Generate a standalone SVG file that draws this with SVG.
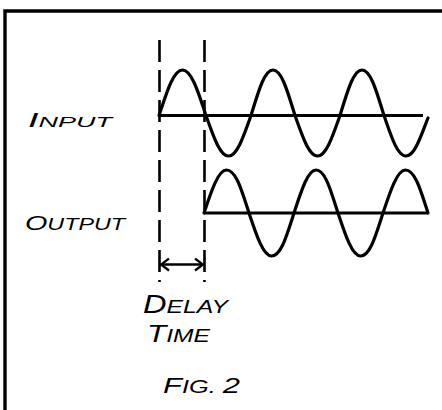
<svg xmlns="http://www.w3.org/2000/svg" width="442" height="410" viewBox="0 0 442 410">
<style>
.frame{stroke:#000;stroke-width:3.4;fill:none}
.wave{stroke:#000;stroke-width:3.2;fill:none;stroke-linecap:round;stroke-linejoin:round}
.axis{stroke:#000;stroke-width:3;fill:none}
.dash{stroke:#000;stroke-width:2.6;fill:none;stroke-dasharray:22 8}
.arrow{stroke:#000;stroke-width:2.4;fill:none}
.lbl{font-family:"Liberation Sans","DejaVu Sans",sans-serif;font-style:italic;fill:#000}
</style>
<defs>
<marker id="head" viewBox="0 0 10 14" refX="9" refY="7" markerWidth="10" markerHeight="14" markerUnits="userSpaceOnUse" orient="auto-start-reverse">
<path d="M1,1 L9,7 L1,13" fill="none" stroke="#000" stroke-width="2.2"/>
</marker>
</defs>
<rect width="442" height="410" fill="#fff"/>
<g id="frame">
<path class="frame" d="M5,410 V11 H442"/>
</g>
<g id="input">
<path class="axis" d="M159,115.5 H423"/>
<path class="wave" d="M159,115.5 C166.7,92.2 173.4,70 182.5,70 C191.6,70 198.3,92.2 206,115.5 C213.3,136.2 219.9,156 228.5,156 C237.1,156 243.7,136.2 251,115.5 C258.2,92.2 264.2,70 273,70 C281.8,70 287.8,92.2 295,115.5 C302.3,136.2 308.9,156 317.5,156 C326.1,156 332.7,136.2 340,115.5 C347.2,92.2 353.2,70 362,70 C370.8,70 376.8,92.2 384,115.5 C391.2,136.2 397.2,156 406,156 C414.8,156 420.8,136.2 428,118"/>
<text class="lbl" x="28" y="127" font-size="15" textLength="84" lengthAdjust="spacingAndGlyphs"><tspan font-size="21">I</tspan>NPUT</text>
</g>
<g id="output">
<path class="axis" d="M204,213 H428"/>
<path class="wave" d="M204,213 C211.3,191 218.2,170 226.5,170 C236.2,170 241.8,191 249,213 C256.3,235 263.2,256 271.5,256 C281.2,256 286.8,235 294,213 C301.2,191 307.8,170 316,170 C325.5,170 330.8,191 338,213 C345.3,235 352.2,256 360.5,256 C370.2,256 375.8,235 383,213 C390.3,191 397.2,170 405.5,170 C415.2,170 420.8,191 428,213"/>
<text class="lbl" x="25" y="230" font-size="17" textLength="100" lengthAdjust="spacingAndGlyphs"><tspan font-size="21">O</tspan>UTPUT</text>
</g>
<g id="delay">
<path class="dash" d="M159.5,40 V282"/>
<path class="dash" d="M204.5,40 V282"/>
<text class="lbl" x="143" y="313" font-size="19" textLength="85" lengthAdjust="spacingAndGlyphs"><tspan font-size="25">D</tspan>ELAY</text>
<text class="lbl" x="147" y="342" font-size="18" textLength="63" lengthAdjust="spacingAndGlyphs"><tspan font-size="23">T</tspan>IME</text>
</g>
<g id="connectors">
<path class="arrow" d="M161,264.5 H203" marker-start="url(#head)" marker-end="url(#head)"/>
</g>
<g id="caption">
<text class="lbl" x="163" y="393" font-size="18" textLength="77" lengthAdjust="spacingAndGlyphs"><tspan font-size="22">F</tspan>IG. <tspan font-size="22">2</tspan></text>
</g>
</svg>
